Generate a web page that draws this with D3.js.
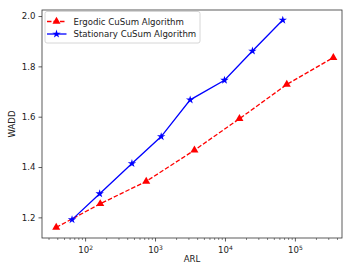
<!DOCTYPE html>
<html>
<head>
<meta charset="utf-8">
<script src="https://cdn.jsdelivr.net/npm/d3@7"></script>
<style>
  body { margin: 0; background: #fff; }
  text { font-family: "DejaVu Sans", sans-serif; fill: #222; }
</style>
</head>
<body>
<svg id="chart" width="343" height="267"></svg>
<script>
// data
const ergodicArl = [38, 162, 736, 3600, 15850, 75300, 349000];
const ergodicWadd = [1.160, 1.254, 1.343, 1.467, 1.592, 1.728, 1.835];
const stationaryArl = [64, 159, 460, 1205, 3130, 9680, 24300, 66000];
const stationaryWadd = [1.191, 1.294, 1.414, 1.521, 1.667, 1.745, 1.861, 1.984];
const yTicks = [1.2, 1.4, 1.6, 1.8, 2.0];
const xTicks = [2, 3, 4, 5];
const seriesNames = ['Ergodic CuSum Algorithm', 'Stationary CuSum Algorithm'];

const fs = '8.6px';
const margin = { top: 10, right: 1, bottom: 29, left: 42 };
const width = 343 - margin.left - margin.right;
const height = 267 - margin.top - margin.bottom;

const svg = d3.select('#chart');
const g = svg.append('g').attr('transform', `translate(${margin.left},${margin.top})`);

const x = d3.scaleLog().domain([23.8, 464000]).range([0, width]);
const y = d3.scaleLinear().domain([1.118, 2.024]).range([height, 0]);

// minor ticks on log axis
const minor = [];
for (let e = 1; e <= 5; e++) {
  for (let m = 2; m <= 9; m++) {
    const v = m * Math.pow(10, e);
    if (v >= x.domain()[0] && v <= x.domain()[1]) minor.push(v);
  }
}
g.selectAll('.minor').data(minor).enter().append('line')
  .attr('x1', d => x(d)).attr('x2', d => x(d))
  .attr('y1', height).attr('y2', height + 2)
  .attr('stroke', '#333').attr('stroke-width', 0.6);

// x axis major ticks
const xg = g.append('g').attr('transform', `translate(0,${height})`);
xTicks.forEach(e => {
  const px = x(Math.pow(10, e));
  xg.append('line').attr('x1', px).attr('x2', px).attr('y1', 0).attr('y2', 3.5)
    .attr('stroke', '#333').attr('stroke-width', 0.8);
  const t = xg.append('text').attr('x', px).attr('y', 15)
    .attr('text-anchor', 'middle').style('font-size', fs);
  t.append('tspan').text('10');
  t.append('tspan').attr('dy', -3.5).style('font-size', '6px').text(e);
});
svg.append('text').attr('x', margin.left + width / 2).attr('y', 262)
  .attr('text-anchor', 'middle').style('font-size', fs).text('ARL');

// y axis
const yAxis = d3.axisLeft(y).tickValues(yTicks).tickFormat(d3.format('.1f')).tickSize(3.5).tickPadding(3);
const yg = g.append('g').call(yAxis);
yg.select('.domain').remove();
yg.selectAll('line').attr('stroke', '#333').attr('stroke-width', 0.8);
yg.selectAll('text').style('font-size', fs).style('font-family', '"DejaVu Sans", sans-serif').attr('fill', '#222');
svg.append('text').attr('transform', `translate(15,${margin.top + height / 2}) rotate(-90)`)
  .attr('text-anchor', 'middle').style('font-size', fs).text('WADD');

// frame
g.append('rect').attr('width', width).attr('height', height)
  .attr('fill', 'none').attr('stroke', '#333').attr('stroke-width', 0.8);

const line = d3.line().x(d => x(d[0])).y(d => y(d[1]));
const ergodic = d3.zip(ergodicArl, ergodicWadd);
const stationary = d3.zip(stationaryArl, stationaryWadd);

const tri = d3.symbol().type(d3.symbolTriangle).size(28);
const star = d3.symbol().type(d3.symbolStar).size(22);

g.append('path').datum(ergodic).attr('d', line).attr('fill', 'none')
  .attr('stroke', '#ff0000').attr('stroke-width', 1.3).attr('stroke-dasharray', '4.5,2');
g.selectAll('.tri').data(ergodic).enter().append('path')
  .attr('d', tri).attr('transform', d => `translate(${x(d[0])},${y(d[1])})`)
  .attr('fill', '#ff0000');

g.append('path').datum(stationary).attr('d', line).attr('fill', 'none')
  .attr('stroke', '#0000ff').attr('stroke-width', 1.3);
g.selectAll('.star').data(stationary).enter().append('path')
  .attr('d', star).attr('transform', d => `translate(${x(d[0])},${y(d[1])})`)
  .attr('fill', '#0000ff');

// legend
const lg = svg.append('g').attr('transform', 'translate(45,11.5)');
lg.append('rect').attr('width', 155).attr('height', 31.5).attr('rx', 2)
  .attr('fill', '#fff').attr('fill-opacity', 0.8).attr('stroke', '#ccc').attr('stroke-width', 0.8);
const entries = [
  { name: seriesNames[0], color: '#ff0000', dash: '4.5,2', sym: tri },
  { name: seriesNames[1], color: '#0000ff', dash: null, sym: star }
];
entries.forEach((e, i) => {
  const yy = 10 + i * 12.5;
  lg.append('line').attr('x1', 2).attr('x2', 21.5).attr('y1', yy).attr('y2', yy)
    .attr('stroke', e.color).attr('stroke-width', 1.3).attr('stroke-dasharray', e.dash);
  lg.append('path').attr('d', e.sym).attr('transform', `translate(11.5,${yy})`).attr('fill', e.color);
  lg.append('text').attr('x', 28.5).attr('y', yy + 3).style('font-size', fs).text(e.name);
});
</script>
</body>
</html>
